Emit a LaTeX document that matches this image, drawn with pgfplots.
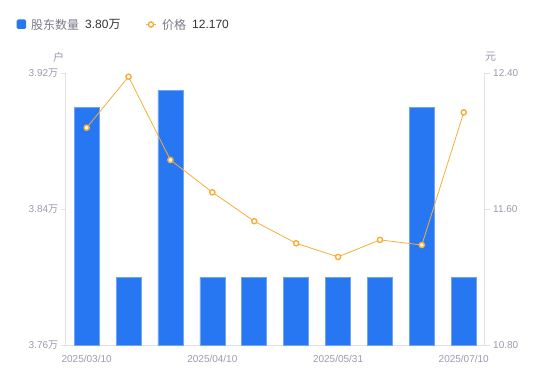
\documentclass[border=0pt]{standalone}
\usepackage{pgfplots}
\pgfplotsset{compat=1.18}
\usepackage{fontspec}
\setmainfont{Liberation Sans}
\newfontfamily\cjk{Noto Sans CJK SC}
\definecolor{barblue}{HTML}{2777F2}
\definecolor{baredge}{HTML}{6FA4F7}
\definecolor{lineor}{HTML}{F6AE37}
\definecolor{axgray}{HTML}{E0E0E6}
\definecolor{tickgray}{HTML}{9A9AAE}
\definecolor{leggray}{HTML}{7A7A8A}
\definecolor{valdark}{HTML}{333333}
\begin{document}
\begin{tikzpicture}
\path[use as bounding box] (0,0) rectangle (550bp,381bp);
\begin{axis}[
  at={(65.7bp,35.7bp)}, anchor=south west,
  scale only axis, width=419bp, height=272bp,
  xmin=-0.5, xmax=9.5, ymin=3.76, ymax=3.92,
  axis x line*=bottom, axis y line*=left,
  axis line style={-, draw=axgray, line width=1bp},
  xtick={0,3,6,9},
  xticklabels={2025/03/10,2025/04/10,2025/05/31,2025/07/10},
  x tick style={draw=none},
  ytick={3.76,3.84,3.92},
  yticklabels={{3.76{\cjk 万}},{3.84{\cjk 万}},{3.92{\cjk 万}}},
  y tick style={draw=axgray, line width=1bp},
  tick align=outside, major tick length=5bp,
  ticklabel style={font=\fontsize{10bp}{12bp}\selectfont, text=tickgray},
  yticklabel style={xshift=1bp},
  xticklabel style={yshift=-1bp},
  clip=false,
]
\addplot[ybar, bar width=25bp, fill=barblue, draw=baredge, line width=0.6bp]
  coordinates {(0,3.90) (1,3.80) (2,3.91) (3,3.80) (4,3.80) (5,3.80) (6,3.80) (7,3.80) (8,3.90) (9,3.80)};
\end{axis}
\begin{axis}[
  at={(65.7bp,35.7bp)}, anchor=south west,
  scale only axis, width=419bp, height=272bp,
  xmin=-0.5, xmax=9.5, ymin=10.8, ymax=12.4,
  axis x line=none, axis y line*=right,
  axis line style={-, draw=axgray, line width=1bp},
  ytick={10.8,11.6,12.4},
  yticklabels={10.80,11.60,12.40},
  y tick style={draw=axgray, line width=1bp},
  tick align=outside, major tick length=5bp,
  ticklabel style={font=\fontsize{10bp}{12bp}\selectfont, text=tickgray},
  clip=false,
]
\addplot[lineor, line width=0.8bp, mark=*, mark size=2.6bp,
  mark options={fill=white, draw=lineor, line width=1.4bp}]
  coordinates {(0,12.08) (1,12.38) (2,11.89) (3,11.70) (4,11.53) (5,11.40) (6,11.32) (7,11.42) (8,11.39) (9,12.17)};
\end{axis}
% units
\node[font=\cjk\fontsize{11bp}{13bp}\selectfont, text=tickgray] at (58.7bp,324bp) {户};
\node[font=\cjk\fontsize{11bp}{13bp}\selectfont, text=tickgray] at (490.5bp,324bp) {元};
% legend
\fill[barblue, rounded corners=1.5bp] (16.7bp,352bp) rectangle (26.2bp,361.5bp);
\node[anchor=west, inner sep=0, font=\cjk\fontsize{12bp}{14bp}\selectfont, text=leggray] at (31bp,356.5bp) {股东数量};
\node[anchor=west, inner sep=0, font=\fontsize{12bp}{14bp}\selectfont, text=valdark] at (85bp,356.5bp) {3.80{\cjk 万}};
\draw[lineor, line width=1.2bp] (146bp,356.5bp) -- (156bp,356.5bp);
\draw[lineor, fill=white, line width=1.4bp] (151bp,356.5bp) circle (2.6bp);
\node[anchor=west, inner sep=0, font=\cjk\fontsize{12bp}{14bp}\selectfont, text=leggray] at (162bp,356.5bp) {价格};
\node[anchor=west, inner sep=0, font=\fontsize{12bp}{14bp}\selectfont, text=valdark] at (192bp,356.5bp) {12.170};
\end{tikzpicture}
\end{document}
